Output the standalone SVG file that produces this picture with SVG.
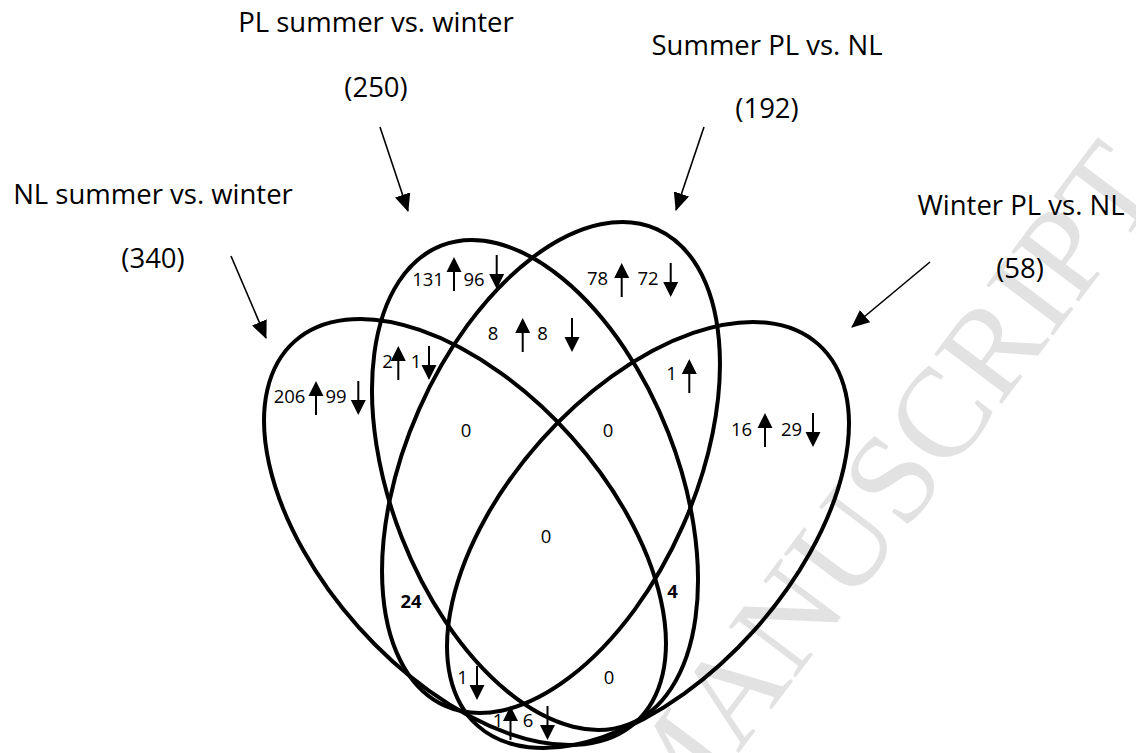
<svg xmlns="http://www.w3.org/2000/svg" xmlns:xlink="http://www.w3.org/1999/xlink" width="1136" height="753" viewBox="0 0 1136 753">
<defs>
<style>
.lbl{font-family:"Open Sans","Liberation Sans",sans-serif;font-size:27.5px;fill:#000;text-anchor:middle}
.num{font-family:"Open Sans","Liberation Sans",sans-serif;font-size:18.5px;fill:#000;text-anchor:middle}
.bold{font-weight:bold}
.ell{fill:none;stroke:#000;stroke-width:4}
.call{fill:none;stroke:#000;stroke-width:1.6}
.wm{font-family:"Liberation Serif","Times New Roman",serif;font-size:128px;fill:#e2e2e2;text-anchor:end}
</style>
<marker id="ah" markerUnits="userSpaceOnUse" markerWidth="18" markerHeight="16" viewBox="0 0 18 16" refX="17" refY="8" orient="auto">
<path d="M0,0 L18,8 L0,16 Z" fill="#000"/>
</marker>
<path id="up" d="M0,0 L7.5,15 L1,15 L1,34 L-1,34 L-1,15 L-7.5,15 Z" fill="#000"/>
<path id="dn" d="M0,34 L7.5,19 L1,19 L1,0 L-1,0 L-1,19 L-7.5,19 Z" fill="#000"/>
</defs>
<rect width="1136" height="753" fill="#fff"/>
<text class="wm" transform="translate(1166,186) rotate(-53)">ACCEPTED MANUSCRIPT</text>

<g id="set-nl">
<ellipse class="ell" cx="465" cy="532" rx="255.7" ry="142.8" transform="rotate(48.2 465 532)"/>
<text class="lbl" x="153" y="204">NL summer vs. winter</text>
<text class="lbl" x="153" y="268">(340)</text>
</g>
<g id="set-pl">
<ellipse class="ell" cx="535" cy="485" rx="257" ry="143.2" transform="rotate(68.6 535 485)"/>
<text class="lbl" x="376" y="32">PL summer vs. winter</text>
<text class="lbl" x="376" y="97">(250)</text>
</g>
<g id="set-summer">
<ellipse class="ell" cx="551" cy="467.5" rx="260.8" ry="144.2" transform="rotate(-66.1 551 467.5)"/>
<text class="lbl" x="767" y="55">Summer PL vs. NL</text>
<text class="lbl" x="767" y="118">(192)</text>
</g>
<g id="set-winter">
<ellipse class="ell" cx="648" cy="535" rx="255.7" ry="142.8" transform="rotate(-48.2 648 535)"/>
<text class="lbl" x="1021" y="215">Winter PL vs. NL</text>
<text class="lbl" x="1020" y="278">(58)</text>
</g>

<g id="connectors">
<path class="call" d="M231,256 L266,338" marker-end="url(#ah)"/>
<path class="call" d="M380,127 L408,211" marker-end="url(#ah)"/>
<path class="call" d="M704,127 L676,210" marker-end="url(#ah)"/>
<path class="call" d="M930,262 L852,327" marker-end="url(#ah)"/>
</g>

<g id="counts">
<text class="num" x="428" y="286">131</text>
<use href="#up" x="454" y="257"/>
<text class="num" x="474" y="286">96</text>
<use href="#dn" x="496.7" y="255"/>

<text class="num" x="597.5" y="285">78</text>
<use href="#up" x="621.7" y="263"/>
<text class="num" x="648" y="285">72</text>
<use href="#dn" x="670.7" y="263"/>

<text class="num" x="493" y="340">8</text>
<use href="#up" x="522.7" y="318"/>
<text class="num" x="542.5" y="340">8</text>
<use href="#dn" x="572" y="318"/>

<text class="num" x="387.5" y="368">2</text>
<use href="#up" x="398.3" y="346"/>
<text class="num" x="416" y="368">1</text>
<use href="#dn" x="429" y="346"/>

<text class="num" x="289.5" y="403">206</text>
<use href="#up" x="316" y="381"/>
<text class="num" x="336" y="403">99</text>
<use href="#dn" x="358.3" y="381"/>

<text class="num" x="671.5" y="380">1</text>
<use href="#up" x="689.3" y="359"/>

<text class="num" x="741.5" y="436">16</text>
<use href="#up" x="765" y="413"/>
<text class="num" x="791.5" y="436">29</text>
<use href="#dn" x="813" y="413"/>

<text class="num" x="466" y="437">0</text>
<text class="num" x="608" y="437">0</text>
<text class="num" x="546" y="543">0</text>
<text class="num bold" x="411" y="608">24</text>
<text class="num bold" x="672.5" y="598">4</text>

<text class="num" x="462.5" y="684">1</text>
<use href="#dn" x="477" y="666"/>
<text class="num" x="609" y="684">0</text>

<text class="num" x="498" y="727">1</text>
<use href="#up" x="510.5" y="706"/>
<text class="num" x="528" y="727">6</text>
<use href="#dn" x="547.5" y="706"/>
</g>
</svg>
